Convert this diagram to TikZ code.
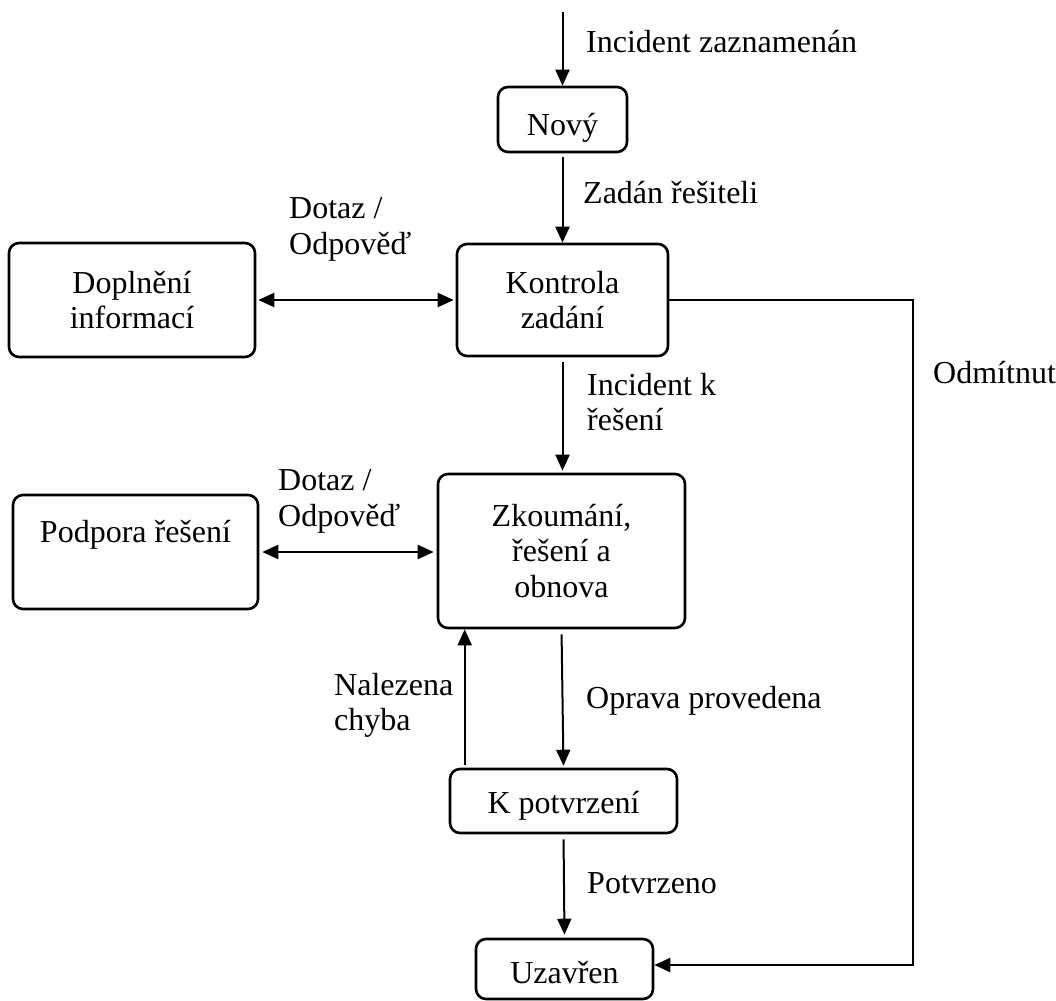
\documentclass[tikz,border=0pt]{standalone}
\usepackage{fontspec}
\setmainfont{Liberation Serif}
\usetikzlibrary{arrows.meta}
\begin{document}
\begin{tikzpicture}[x=1pt,y=-1pt,
  >={Triangle[length=16pt,width=14pt]},
  every node/.style={font=\fontsize{32}{35.5}\selectfont, inner sep=0pt},
  box/.style={draw, line width=2.6pt, rounded corners=10pt, align=center},
  lbl/.style={align=left},
  conn/.style={line width=2pt, ->},
  dconn/.style={line width=2pt, <->}]
\useasboundingbox (0,0) rectangle (1056,1000);

% boxes
\node[box, minimum width=129pt, minimum height=65pt, text height=33pt, text depth=0pt] (novy) at (562.5,119.5) {Nový};
\node[box, minimum width=211pt, minimum height=112pt] (kontrola) at (562.5,300) {Kontrola\\zadání};
\node[box, minimum width=246pt, minimum height=114pt] (doplneni) at (132,300) {Doplnění\\informací};
\node[box, minimum width=247pt, minimum height=154pt] (zkoumani) at (561.5,551) {Zkoumání,\\řešení a\\obnova};
\node[box, minimum width=245pt, minimum height=114pt, text height=12pt, text depth=32pt] (podpora) at (135.5,552) {Podpora řešení};
\node[box, minimum width=227pt, minimum height=64pt, text height=24pt, text depth=0pt] (kpotvrz) at (563.5,801) {K potvrzení};
\node[box, minimum width=177pt, minimum height=60pt, text height=28pt, text depth=0pt] (uzavren) at (564.5,969) {Uzavřen};

% labels
\node[lbl, anchor=base west] (l0) at (586,53) {Incident zaznamenán};
\node[lbl, anchor=base west] (l1) at (583,204) {Zadán řešiteli};
\node[lbl, anchor=north west] (l2) at (289,197.5) {Dotaz /\\Odpověď};
\node[lbl, anchor=north west] (l3) at (587,373) {Incident k\\řešení};
\node[lbl, anchor=base west] (l4) at (933,383) {Odmítnut};
\node[lbl, anchor=north west] (l5) at (278,469.5) {Dotaz /\\Odpověď};
\node[lbl, anchor=north west] (l6) at (334,673) {Nalezena\\chyba};
\node[lbl, anchor=base west] (l7) at (586,708) {Oprava provedena};
\node[lbl, anchor=base west] (l8) at (587,893) {Potvrzeno};

% connectors
\coordinate (start) at (562.5,12);
\coordinate (r1) at (913,300);
\coordinate (r2) at (913,965);
\draw[conn] (start) -- (novy.north);
\draw[conn, shorten <=4pt] (novy.south) -- (kontrola.north);
\draw[dconn, shorten <=2pt, shorten >=2pt] (doplneni.east) -- (kontrola.west);
\draw[conn, shorten <=5pt, shorten >=2pt] (kontrola.south) -- (kontrola.south |- zkoumani.north);
\draw[dconn, shorten <=3pt, shorten >=3pt] (podpora.east) -- (podpora.east -| zkoumani.west);
\draw[conn, shorten <=5pt, shorten >=2pt] (zkoumani.south) -- (kpotvrz.north);
\draw[conn, shorten <=3pt] ([xshift=16pt]kpotvrz.north west) -- ([xshift=16pt]kpotvrz.north west |- zkoumani.south);
\draw[conn, shorten <=5pt, shorten >=3pt] (kpotvrz.south) -- (uzavren.north);
\draw[conn] (kontrola.east) -- (r1) -- (r2) -- (r2 -| uzavren.east);
\end{tikzpicture}
\end{document}
